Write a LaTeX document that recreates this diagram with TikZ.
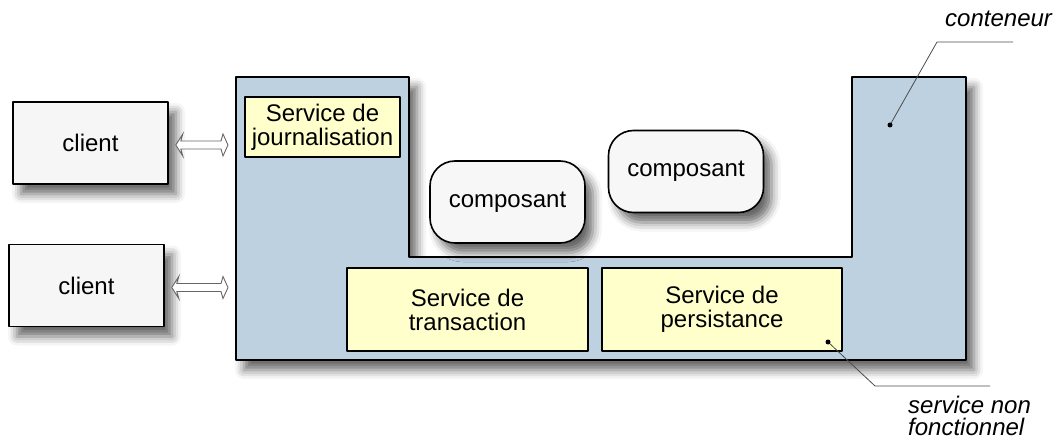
\documentclass[tikz,border=0pt]{standalone}
\usepackage{fontspec}
\setmainfont{Liberation Sans}
\usetikzlibrary{calc,shadows.blur}
\definecolor{bleu}{RGB}{189,209,224}
\definecolor{jaune}{RGB}{255,255,204}
\definecolor{gris}{RGB}{246,246,246}
\tikzset{
	ombre/.style={blur shadow={shadow xshift=8pt,shadow yshift=-10pt,shadow blur radius=9pt,shadow opacity=60}},
	boite/.style={draw,line width=1.6pt,fill=gris,ombre,minimum width=155pt,minimum height=82pt,inner sep=0pt,align=center},
	serv/.style={draw,line width=1.4pt,fill=jaune,inner sep=0pt,align=center},
	compo/.style={boite,fill=white!97!black,rounded corners=25pt},
	fleche/.style={draw=black!60,fill=white,line width=0.9pt,line join=miter,
		to path={let \p1=(\tikztostart), \p2=(\tikztotarget) in
		(\x1+7pt,\y1) -- (\x1+14pt,\y1+11pt) -- (\x1+12pt,\y1+4pt) -- (\x2-15pt,\y1+4pt) -- (\x2-13pt,\y1+11pt)
		-- (\x2-8pt,\y1) -- (\x2-13pt,\y1-11pt) -- (\x2-15pt,\y1-4pt) -- (\x1+12pt,\y1-4pt) -- (\x1+14pt,\y1-11pt) -- cycle}},
	renvoi/.style={draw=black!70,line width=0.8pt},
	legende/.style={font=\fontsize{24}{22}\selectfont\itshape,inner sep=0pt,align=left}
}
\begin{document}
\begin{tikzpicture}[x=1pt,y=-1pt,line join=round,font=\fontsize{24}{24}\selectfont]
	\useasboundingbox (0,0) rectangle (1059,446);
	\path
	(236,77) coordinate(A)
	(409,77) coordinate(B)
	(409,257) coordinate(C)
	(852,257) coordinate(D)
	(852,77) coordinate(E)
	(966,77) coordinate(F)
	(966,360) coordinate(G)
	(236,360) coordinate(H)
	(890,125) coordinate(P)
	(937,42) coordinate(Q)
	(1013,42) coordinate(R)
	(828,342) coordinate(S)
	(875,386) coordinate(T)
	(990,386) coordinate(U)
	;
	\draw[line width=2pt,fill=bleu,ombre] (A)--(B)--(C)--(D)--(E)--(F)--(G)--(H)--cycle;
	\node[boite] (cl1) at (90.5,143) {client};
	\node[boite] (cl2) at (86.5,285.5) {client};
	\node[serv,minimum width=155pt,minimum height=60pt] (sj) at (322.5,127) {Service de\\journalisation};
	\node[serv,minimum width=241pt,minimum height=83pt] (st) at (467.5,309.5) {Service de\\transaction};
	\node[serv,minimum width=240pt,minimum height=83pt] (sp) at (722,309.5) {Service de\\persistance};
	\node[compo] (co1) at (507.5,202) {composant};
	\node[compo] (co2) at (686,171.5) {composant};
	\foreach \c in {cl1,cl2}\draw[fleche] ([yshift=-2pt]\c.east) to ([yshift=-2pt]\c.east -| A);
	\draw[renvoi] (P)--(Q)--(R) (S)--(T)--(U);
	\foreach \p in {P,S}\fill (\p) circle(2.5pt);
	\node[legende,anchor=base west] (lc) at (945,27) {conteneur};
	\node[legende,anchor=base west] (ls) at (908,435) {service non\\fonctionnel};
	%\draw[red] (0,0) rectangle (1059,446);
\end{tikzpicture}
\end{document}
